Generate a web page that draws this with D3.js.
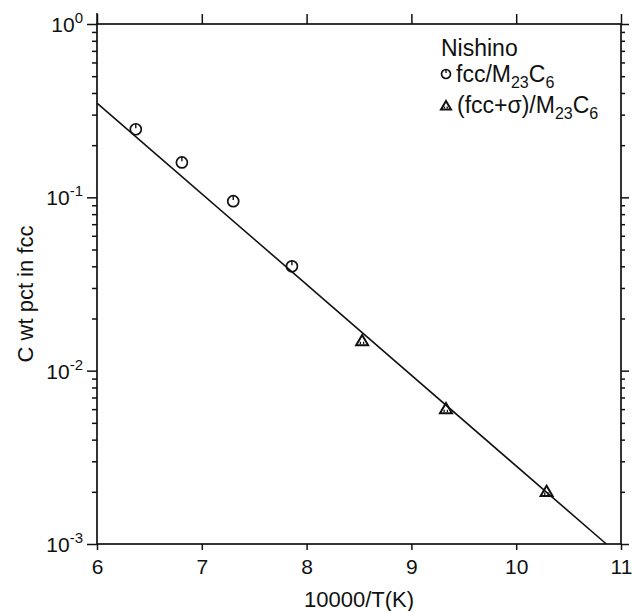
<!DOCTYPE html>
<html>
<head>
<meta charset="utf-8">
<script src="https://cdn.jsdelivr.net/npm/d3@7"></script>
<style>
  body { margin: 0; background: #fff; }
  svg { display: block; font-family: "Liberation Sans", Arial, sans-serif; }
</style>
</head>
<body>
<svg width="632" height="611"></svg>
<script>
// data
const xTicks = [6, 7, 8, 9, 10, 11];
const yDecades = [1e-3, 1e-2, 1e-1, 1];
const yExponents = ['-3', '-2', '-1', '0'];

// fcc/M23C6 (circles)
const circleT = [6.37, 6.81, 7.30, 7.86];
const circleC = [0.247, 0.159, 0.095, 0.040];

// (fcc+sigma)/M23C6 (triangles)
const triT = [8.53, 9.33, 10.29];
const triC = [0.0148, 0.0060, 0.0020];

// fitted line
const fitT = [6, 10.86];
const fitC = [0.35, 0.001];

const svg = d3.select('svg');
const ink = '#111';

const x = d3.scaleLinear().domain([6, 11]).range([97, 621]);
const y = d3.scaleLog().domain([1e-3, 1]).range([544, 24]);

const isMajor = (d) => yDecades.some((v) => Math.abs(v - d) / v < 1e-9);

function styleAxis(g) {
    g.selectAll('.domain').remove();
    g.selectAll('line').attr('stroke', ink).attr('stroke-width', 1.5);
    g.selectAll('text').attr('fill', ink);
}

// bottom axis
svg.append('g')
    .attr('transform', `translate(0,${y.range()[0]})`)
    .call(d3.axisBottom(x).tickValues(xTicks).tickSize(6).tickPadding(9).tickFormat(d3.format('d')))
    .call(styleAxis)
    .call((g) => g.selectAll('text').style('font-size', '21px').style('font-family', null));

// top axis
svg.append('g')
    .attr('transform', `translate(0,${y.range()[1]})`)
    .call(d3.axisTop(x).tickValues(xTicks).tickSize(10).tickFormat(''))
    .call(styleAxis);

// left axis (minor + major)
const left = svg.append('g')
    .attr('transform', `translate(${x.range()[0]},0)`)
    .call(d3.axisLeft(y).tickValues(y.ticks()).tickSize(5).tickFormat(''))
    .call(styleAxis);
left.selectAll('.tick line').attr('x2', (d) => (isMajor(d) ? -10 : -5));

// right axis
const right = svg.append('g')
    .attr('transform', `translate(${x.range()[1]},0)`)
    .call(d3.axisRight(y).tickValues(y.ticks()).tickSize(4).tickFormat(''))
    .call(styleAxis);
right.selectAll('.tick line').attr('x2', (d) => (isMajor(d) ? 8 : 4));

// y labels 10^n
const yl = svg.append('g')
    .selectAll('text')
    .data(yDecades)
    .enter()
    .append('text')
    .attr('fill', ink)
    .attr('text-anchor', 'end')
    .attr('x', x.range()[0] - 14)
    .attr('y', (d) => y(d) + 8)
    .style('font-size', '21px');
yl.append('tspan').text('10');
yl.append('tspan')
    .attr('dy', -9)
    .style('font-size', '15px')
    .text((d, i) => yExponents[i]);

// frame
svg.append('rect')
    .attr('x', x.range()[0])
    .attr('y', y.range()[1])
    .attr('width', x.range()[1] - x.range()[0])
    .attr('height', y.range()[0] - y.range()[1])
    .attr('fill', 'none')
    .attr('stroke', ink)
    .attr('stroke-width', 1.7);
// little overshoot of the left axis above the frame
svg.append('line')
    .attr('x1', x.range()[0]).attr('x2', x.range()[0])
    .attr('y1', y.range()[1] - 11).attr('y2', y.range()[1])
    .attr('stroke', ink).attr('stroke-width', 1.5);

// fit line
const line = d3.line().x((d) => x(d[0])).y((d) => y(d[1]));
svg.append('path')
    .datum(d3.zip(fitT, fitC))
    .attr('d', line)
    .attr('fill', 'none')
    .attr('stroke', ink)
    .attr('stroke-width', 1.6);

// circle markers
function circleMark(g, r) {
    g.append('circle').attr('r', r).attr('fill', 'none').attr('stroke', ink).attr('stroke-width', 1.7);
    g.append('line').attr('x1', 0).attr('x2', 0).attr('y1', -r).attr('y2', -r * 0.2)
        .attr('stroke', ink).attr('stroke-width', 1.4);
}
function triMark(g, s) {
    const h = s * 0.85;
    g.append('path')
        .attr('d', `M0,${-h * 0.6}L${s / 2},${h * 0.4}L${-s / 2},${h * 0.4}Z`)
        .attr('fill', 'none').attr('stroke', ink).attr('stroke-width', 2).attr('stroke-linejoin', 'miter');
    g.append('path')
        .attr('d', `M${-s * 0.15},${h * 0.3}V${h * 0.05}M${s * 0.12},${h * 0.3}V${h * 0.05}`)
        .attr('stroke', ink).attr('stroke-width', 1.3);
}

svg.append('g')
    .selectAll('g')
    .data(d3.zip(circleT, circleC))
    .enter()
    .append('g')
    .attr('transform', (d) => `translate(${x(d[0])},${y(d[1])})`)
    .each(function () { circleMark(d3.select(this), 5.5); });

svg.append('g')
    .selectAll('g')
    .data(d3.zip(triT, triC))
    .enter()
    .append('g')
    .attr('transform', (d) => `translate(${x(d[0])},${y(d[1])})`)
    .each(function () { triMark(d3.select(this), 12); });

// axis titles
svg.append('text')
    .attr('x', 359).attr('y', 607)
    .attr('text-anchor', 'middle')
    .attr('fill', ink)
    .style('font-size', '22px')
    .text('10000/T(K)');

svg.append('text')
    .attr('transform', 'translate(33,294) rotate(-90)')
    .attr('text-anchor', 'middle')
    .attr('fill', ink)
    .style('font-size', '22px')
    .text('C wt pct in fcc');

// legend
const leg = svg.append('g').attr('fill', ink).style('font-size', '23px');
leg.append('text').attr('x', 441).attr('y', 56).text('Nishino');

const l1 = leg.append('g').attr('transform', 'translate(446,74)');
circleMark(l1, 4.5);
const t1 = leg.append('text').attr('x', 456).attr('y', 82);
t1.append('tspan').text('fcc/M');
t1.append('tspan').attr('dy', 6).style('font-size', '16px').text('23');
t1.append('tspan').attr('dy', -6).text('C');
t1.append('tspan').attr('dy', 6).style('font-size', '16px').text('6');

const l2 = leg.append('g').attr('transform', 'translate(446,106)');
triMark(l2, 10);
const t2 = leg.append('text').attr('x', 457).attr('y', 113);
t2.append('tspan').text('(fcc+σ)/M');
t2.append('tspan').attr('dy', 6).style('font-size', '16px').text('23');
t2.append('tspan').attr('dy', -6).text('C');
t2.append('tspan').attr('dy', 6).style('font-size', '16px').text('6');
</script>
</body>
</html>
